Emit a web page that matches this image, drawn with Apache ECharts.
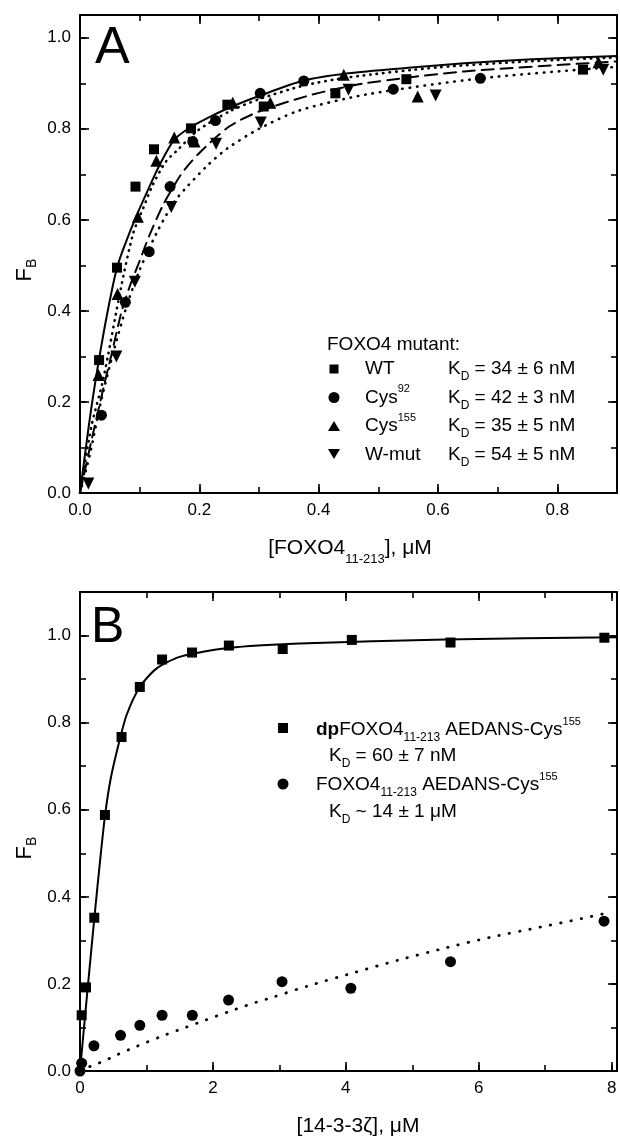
<!DOCTYPE html>
<html><head><meta charset="utf-8">
<script src="https://cdn.jsdelivr.net/npm/echarts@6/dist/echarts.min.js"></script>
<style>html,body{margin:0;padding:0;background:#fff}#c{width:620px;height:1139px}</style>
</head><body><div id="c"></div>
<script>
// ---------- Panel A data ----------
const wtX = [0.032, 0.062, 0.093, 0.124, 0.186, 0.247, 0.308, 0.428, 0.547, 0.843];
const wtY = [0.292, 0.495, 0.673, 0.755, 0.801, 0.853, 0.849, 0.878, 0.909, 0.930];
const cys92X = [0.036, 0.076, 0.116, 0.151, 0.189, 0.227, 0.302, 0.375, 0.525, 0.671];
const cys92Y = [0.171, 0.419, 0.530, 0.673, 0.772, 0.818, 0.878, 0.905, 0.887, 0.911];
const cys155X = [0.031, 0.063, 0.097, 0.128, 0.158, 0.192, 0.256, 0.319, 0.442, 0.566, 0.869];
const cys155Y = [0.259, 0.437, 0.607, 0.730, 0.781, 0.772, 0.857, 0.857, 0.919, 0.871, 0.946];
const wmutX = [0.014, 0.061, 0.092, 0.153, 0.228, 0.303, 0.450, 0.596, 0.877];
const wmutY = [0.021, 0.300, 0.464, 0.628, 0.767, 0.814, 0.886, 0.873, 0.930];

// fitted curves
const fitWtX = [0, 0.015, 0.028, 0.045, 0.061, 0.072, 0.094, 0.114, 0.134, 0.158, 0.186, 0.225, 0.253, 0.3, 0.375, 0.45, 0.55, 0.644, 0.75, 0.9];
const fitWtY = [0, 0.15, 0.263, 0.39, 0.49, 0.534, 0.607, 0.666, 0.722, 0.776, 0.804, 0.831, 0.848, 0.872, 0.906, 0.922, 0.934, 0.944, 0.952, 0.96];
const fitC155X = [0, 0.019, 0.039, 0.069, 0.089, 0.106, 0.122, 0.144, 0.164, 0.197, 0.25, 0.3, 0.375, 0.45, 0.6, 0.75, 0.9];
const fitC155Y = [0, 0.146, 0.25, 0.453, 0.57, 0.626, 0.677, 0.728, 0.754, 0.796, 0.838, 0.865, 0.895, 0.913, 0.935, 0.948, 0.957];
const fitC92X = [0, 0.02, 0.04, 0.052, 0.07, 0.085, 0.1, 0.116, 0.139, 0.169, 0.2, 0.25, 0.3, 0.389, 0.478, 0.644, 0.9];
const fitC92Y = [0, 0.12, 0.235, 0.3, 0.4, 0.46, 0.51, 0.565, 0.632, 0.699, 0.747, 0.805, 0.838, 0.875, 0.9, 0.926, 0.948];
const fitWmX = [0, 0.017, 0.035, 0.054, 0.078, 0.1, 0.117, 0.131, 0.158, 0.181, 0.214, 0.247, 0.3, 0.367, 0.478, 0.672, 0.867, 0.9];
const fitWmY = [0, 0.087, 0.2, 0.3, 0.41, 0.49, 0.54, 0.578, 0.64, 0.675, 0.72, 0.757, 0.8, 0.84, 0.875, 0.911, 0.933, 0.936];

// ---------- Panel B data ----------
const dpX = [0.025, 0.09, 0.215, 0.375, 0.625, 0.9, 1.235, 1.685, 2.24, 3.05, 4.09, 5.575, 7.89];
const dpY = [0.128, 0.192, 0.352, 0.588, 0.767, 0.882, 0.945, 0.961, 0.977, 0.969, 0.990, 0.984, 0.995];
const npX = [0, 0.025, 0.21, 0.61, 0.9, 1.235, 1.69, 2.235, 3.04, 4.075, 5.575, 7.885];
const npY = [0, 0.018, 0.058, 0.082, 0.105, 0.128, 0.128, 0.163, 0.205, 0.190, 0.251, 0.344];
const fitDpX = [0, 0.1, 0.215, 0.3, 0.375, 0.46, 0.575, 0.7, 0.9, 1.15, 1.5, 2.25, 3.3, 5.5, 8.1];
const fitDpY = [0, 0.165, 0.35, 0.48, 0.585, 0.67, 0.747, 0.817, 0.882, 0.924, 0.951, 0.972, 0.982, 0.991, 0.996];
const fitNpX = [0, 0.175, 0.35, 0.525, 0.86, 1.2, 1.55, 1.89, 2.235, 2.575, 2.91, 3.425, 4.125, 4.8, 5.485, 6.175, 6.85, 7.55, 7.875];
const fitNpY = [0, 0.012, 0.022, 0.035, 0.057, 0.078, 0.098, 0.117, 0.136, 0.154, 0.17, 0.195, 0.226, 0.255, 0.282, 0.307, 0.328, 0.35, 0.361];

// tick labels
const ticksAx = ['0.0', '0.2', '0.4', '0.6', '0.8'];
const ticksAy = ['0.0', '0.2', '0.4', '0.6', '0.8', '1.0'];
const ticksBx = ['0', '2', '4', '6', '8'];
const ticksBy = ['0.0', '0.2', '0.4', '0.6', '0.8', '1.0'];

const FONT = '"Liberation Sans", Arial, Helvetica, sans-serif';
const zip = (a, b) => a.map((v, i) => [v, b[i]]);

function fmtFrom(list, step) {
  return function (v) {
    const k = Math.round(v / step);
    if (Math.abs(v / step - k) > 1e-6) return '';
    return list[k] !== undefined ? list[k] : '';
  };
}
function ax(grid, pos, min, max, interval, tickLen, showLine, fmt) {
  return {
    type: 'value', gridIndex: grid, position: pos, min: min, max: max, interval: interval,
    axisLine: { show: showLine, onZero: false, lineStyle: { color: '#000', width: 2 } },
    axisTick: { show: true, inside: true, length: tickLen, lineStyle: { color: '#000', width: 1.6 } },
    minorTick: { show: false },
    axisLabel: fmt ? { show: true, formatter: fmt, color: '#000', fontSize: 17, fontFamily: FONT, margin: 9, showMinLabel: true, showMaxLabel: true } : { show: false },
    splitLine: { show: false }
  };
}
const xAxes = [
  ax(0, 'bottom', 0, 0.9, 0.2, 9, true, fmtFrom(ticksAx, 0.2)),
  ax(0, 'bottom', 0, 0.9, 0.1, 6, false, null),
  ax(0, 'top', 0, 0.9, 0.2, 9, true, null),
  ax(0, 'top', 0, 0.9, 0.1, 6, false, null),
  ax(1, 'bottom', 0, 8.08, 2, 9, true, fmtFrom(ticksBx, 2)),
  ax(1, 'bottom', 0, 8.08, 1, 6, false, null),
  ax(1, 'top', 0, 8.08, 2, 9, true, null),
  ax(1, 'top', 0, 8.08, 1, 6, false, null)
];
const yAxes = [
  ax(0, 'left', 0, 1.05, 0.2, 9, true, fmtFrom(ticksAy, 0.2)),
  ax(0, 'left', 0, 1.05, 0.1, 6, false, null),
  ax(0, 'right', 0, 1.05, 0.2, 9, true, null),
  ax(0, 'right', 0, 1.05, 0.1, 6, false, null),
  ax(1, 'left', 0, 1.1, 0.2, 9, true, fmtFrom(ticksBy, 0.2)),
  ax(1, 'left', 0, 1.1, 0.1, 6, false, null),
  ax(1, 'right', 0, 1.1, 0.2, 9, true, null),
  ax(1, 'right', 0, 1.1, 0.1, 6, false, null)
];

function sc(xi, data, symbol, size, rot) {
  return { type: 'scatter', xAxisIndex: xi, yAxisIndex: xi, data: data, symbol: symbol, symbolSize: size,
    symbolRotate: rot || 0, itemStyle: { color: '#000', opacity: 1 }, z: 5, silent: true };
}
function ln(xi, data, type, width) {
  return { type: 'line', xAxisIndex: xi, yAxisIndex: xi, data: data, showSymbol: false, symbol: 'none',
    smooth: 0.25, lineStyle: { color: '#000', width: width, type: type, cap: 'round', opacity: 1 }, z: 3, silent: true };
}

const RICH = {
  sub: { fontSize: 12, fontFamily: FONT, lineHeight: 12, verticalAlign: 'bottom', fill: '#000' },
  sup: { fontSize: 11, fontFamily: FONT, lineHeight: 12, verticalAlign: 'top', fill: '#000' },
  b: { fontSize: 19, fontFamily: FONT, fontWeight: 'bold', fill: '#000' },
  tsub: { fontSize: 13, fontFamily: FONT, lineHeight: 13, verticalAlign: 'bottom', fill: '#000' },
  fsub: { fontSize: 14, fontFamily: FONT, lineHeight: 14, verticalAlign: 'bottom', fill: '#000' }
};
function T(x, y, text, size, lh, extra) {
  return Object.assign({
    type: 'text', x: x, y: y, silent: true,
    style: { text: text, fill: '#000', fontSize: size, fontFamily: FONT, align: 'left', verticalAlign: 'middle', lineHeight: lh, rich: RICH }
  }, extra || {});
}
function ctr(el) { el.style.align = 'center'; return el; }

const graphics = [
  T(95, 49, 'A', 52, 52),
  T(91, 628, 'B', 50, 50),
  // axis titles
  ctr(T(350, 548, '[FOXO4{tsub|11-213}], μM', 21, 36)),
  ctr(T(358, 1126, '[14-3-3ζ], μM', 21, 24)),
  ctr(T(25, 270, 'F{fsub|B}', 22, 28, { rotation: Math.PI / 2 })),
  ctr(T(25, 848, 'F{fsub|B}', 22, 28, { rotation: Math.PI / 2 })),
  // legend A
  T(327, 345, 'FOXO4 mutant:', 19, 28),
  { type: 'rect', shape: { x: 329.5, y: 364.5, width: 9, height: 9 }, style: { fill: '#000' }, silent: true },
  { type: 'circle', shape: { cx: 334, cy: 397.5, r: 5.5 }, style: { fill: '#000' }, silent: true },
  { type: 'polygon', shape: { points: [[328, 431], [340, 431], [334, 421]] }, style: { fill: '#000' }, silent: true },
  { type: 'polygon', shape: { points: [[328, 449], [340, 449], [334, 459]] }, style: { fill: '#000' }, silent: true },
  T(365, 369, 'WT', 19, 28),
  T(365, 397.5, 'Cys{sup|92}', 19, 28),
  T(365, 426, 'Cys{sup|155}', 19, 28),
  T(365, 454.5, 'W-mut', 19, 28),
  T(448, 369, 'K{sub|D} = 34 ± 6 nM', 19, 28),
  T(448, 397.5, 'K{sub|D} = 42 ± 3 nM', 19, 28),
  T(448, 426, 'K{sub|D} = 35 ± 5 nM', 19, 28),
  T(448, 454.5, 'K{sub|D} = 54 ± 5 nM', 19, 28),
  // legend B
  { type: 'rect', shape: { x: 278, y: 723, width: 10, height: 10 }, style: { fill: '#000' }, silent: true },
  { type: 'circle', shape: { cx: 283, cy: 784, r: 5.5 }, style: { fill: '#000' }, silent: true },
  T(316, 730, '{b|dp}FOXO4{sub|11-213} AEDANS-Cys{sup|155}', 19, 28),
  T(329, 756, 'K{sub|D} = 60 ± 7 nM', 19, 28),
  T(316, 785, 'FOXO4{sub|11-213} AEDANS-Cys{sup|155}', 19, 28),
  T(329, 812, 'K{sub|D} ~ 14 ± 1 μM', 19, 28)
];

const option = {
  animation: false,
  backgroundColor: '#fff',
  grid: [
    { left: 80, top: 15, width: 539, height: 478 },
    { left: 80, top: 592, width: 538, height: 479 }
  ],
  xAxis: xAxes,
  yAxis: yAxes,
  series: [
    ln(0, zip(fitWtX, fitWtY), 'solid', 2),
    ln(0, zip(fitC155X, fitC155Y), [0.5, 6], 2.6),
    ln(0, zip(fitC92X, fitC92Y), [12, 7], 2),
    ln(0, zip(fitWmX, fitWmY), [0.5, 7], 2.6),
    sc(0, zip(wtX, wtY), 'rect', 10),
    sc(0, zip(cys92X, cys92Y), 'circle', 11),
    sc(0, zip(cys155X, cys155Y), 'triangle', 12),
    sc(0, zip(wmutX, wmutY), 'triangle', 12, 180),
    ln(4, zip(fitDpX, fitDpY), 'solid', 2),
    ln(4, zip(fitNpX, fitNpY), [0.5, 10], 2.8),
    sc(4, zip(dpX, dpY), 'rect', 10),
    sc(4, zip(npX, npY), 'circle', 11)
  ],
  graphic: graphics
};
const chart = echarts.init(document.getElementById('c'), null, { renderer: 'canvas' });
chart.setOption(option);
</script>
</body></html>
